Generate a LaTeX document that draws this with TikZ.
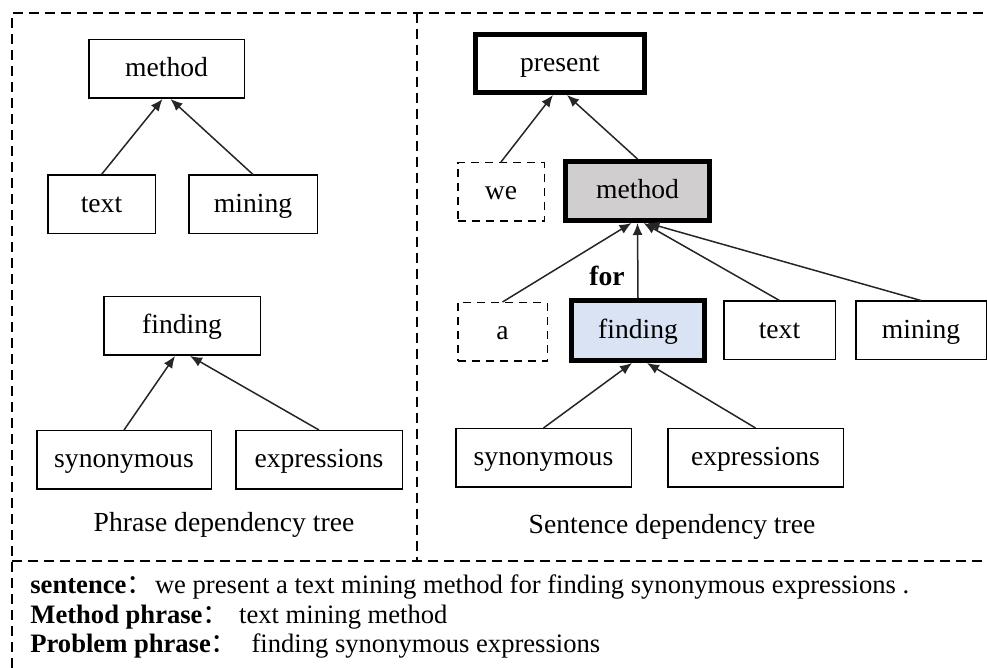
\documentclass[tikz,border=0pt]{standalone}
\usepackage{fontspec}
\setmainfont{Liberation Serif}
\newfontfamily\cjk{Noto Sans CJK SC}
\usetikzlibrary{arrows.meta}
\definecolor{headgray}{RGB}{208,206,206}
\definecolor{headblue}{RGB}{218,227,243}

\begin{document}
\begin{tikzpicture}[x=0.5pt,y=-0.5pt]
        \tikzstyle{every node}=[font=\fontsize{13.8}{16}\selectfont]
        \tikzstyle{word}=[draw, line width=0.75pt, minimum height=29.25pt, inner sep=0pt, text height=10.5pt, text depth=2.5pt]
        \tikzstyle{headword}=[word, line width=2.5pt, minimum height=29.5pt]
        \tikzstyle{dropped}=[word, dash pattern=on 4pt off 3pt]
        \tikzstyle{dep}=[-{Latex[length=6pt,width=5pt]}, line width=0.75pt, draw=black!85, fill=black]
        \tikzstyle{frame}=[dash pattern=on 5pt off 3pt, line width=0.6pt]
        \tikzstyle{note}=[anchor=west, inner sep=0pt, font=\fontsize{13.3}{16}\selectfont]
        \useasboundingbox (0,0) rectangle (987,668);
        \draw[frame] (12,668) -- (12,13) -- (987,13);
        \draw[frame] (417,13) -- (417,561);
        \draw[frame] (12,561) -- (987,561);
        \node[word, minimum width=77.75pt] (m1) at (166.5,69) {method};
        \node[word, minimum width=53.75pt] (t1) at (101.5,204.5) {text};
        \node[word, minimum width=64.25pt] (n1) at (253,204.5) {mining};
        \node[word, minimum width=78.25pt] (f1) at (182,326) {finding};
        \node[word, minimum width=87.25pt] (s1) at (124,460) {synonymous};
        \node[word, minimum width=83.25pt] (e1) at (319,460) {expressions};
        \node (cap1) at (224,525) {Phrase dependency tree};
        \node[headword, minimum width=84.5pt, minimum height=29pt] (pr) at (560,63.5) {present};
        \node[dropped, minimum width=43.25pt] (we) at (501,192) {we};
        \node[headword, minimum width=72pt, fill=headgray] (m2) at (637.5,191) {method};
        \node[dropped, minimum width=44.75pt] (a) at (502.5,332) {a};
        \node[headword, minimum width=66.5pt, minimum height=30pt, fill=headblue] (f2) at (638,330.5) {finding};
        \node[word, minimum width=55.75pt] (t2) at (779.5,330.5) {text};
        \node[word, minimum width=65.25pt] (n2) at (921,330.5) {mining};
        \node[word, minimum width=87.75pt] (s2) at (543.5,458) {synonymous};
        \node[word, minimum width=87.75pt] (e2) at (755.5,458) {expressions};
        \node (cap2) at (672,527) {Sentence dependency tree};
        \node (for) at (607,276) {\bfseries for};
        \draw[dep] (t1.north) -- ([xshift=-2pt]m1.south);
        \draw[dep] (n1.north) -- ([xshift=2pt]m1.south);
        \draw[dep] (s1.north) -- ([xshift=-3.5pt]f1.south);
        \draw[dep] (e1.north) -- ([xshift=4pt]f1.south);
        \draw[dep] (we.north) -- ([xshift=-3.5pt]pr.south);
        \draw[dep] (m2.north) -- ([xshift=3.5pt]pr.south);
        \draw[dep] (a.north) -- ([xshift=-3pt]m2.south);
        \draw[dep] (f2.north) -- (m2.south);
        \draw[dep] (t2.north) -- ([xshift=3pt]m2.south);
        \draw[dep] (n2.north) -- ([xshift=5pt]m2.south);
        \draw[dep] (s2.north) -- ([xshift=-3pt]f2.south);
        \draw[dep] (e2.north) -- ([xshift=4.5pt]f2.south);
        \node[note] (sent) at (30,587) {\textbf{sentence}{\cjk ：}\hspace{1pt}we present a text mining method for finding synonymous expressions .};
        \node[note] (mphrase) at (30,617) {\textbf{Method phrase}{\cjk ：}\hspace{5pt}text mining method};
        \node[note] (pphrase) at (30,646) {\textbf{Problem phrase}{\cjk ：}\hspace{7pt}finding synonymous expressions};
\end{tikzpicture}
\end{document}
